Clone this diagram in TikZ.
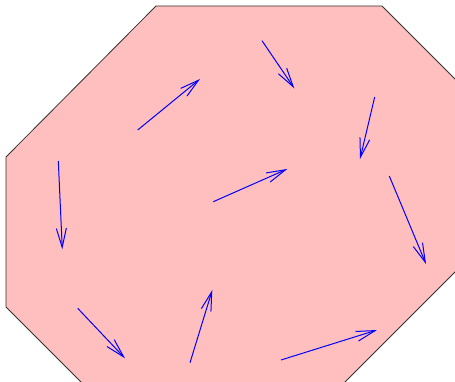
\documentclass[tikz,border=0pt]{standalone}
\usetikzlibrary{arrows.meta}
\definecolor{octfill}{RGB}{255,191,191}
\tikzset{
  vec/.style={draw=blue, line width=1pt, -{Straight Barb[length=19pt,width=10pt]}},
  octagon/.style={fill=octfill, draw=black!80, line width=0.8pt}
}
\begin{document}
\begin{tikzpicture}[x=1pt,y=-1pt]
\useasboundingbox (0,0) rectangle (455,382);
\clip (0,0) rectangle (455,382);
\draw[octagon] (6,157) -- (156,6) -- (382,6) -- (470,94) -- (470,257) -- (327,400) -- (99,400) -- (6,307) -- cycle;
\coordinate (a1) at (137.7,130); \coordinate (b1) at (200,79);
\coordinate (a2) at (262,40.7);  \coordinate (b2) at (294.3,88.3);
\coordinate (a3) at (374.7,97);  \coordinate (b3) at (360,159);
\coordinate (a4) at (389.3,176); \coordinate (b4) at (426,264);
\coordinate (a5) at (213.3,201.7); \coordinate (b5) at (287.3,169);
\coordinate (a6) at (58.3,161);  \coordinate (b6) at (62.3,249.3);
\coordinate (a7) at (77.7,308.3); \coordinate (b7) at (125,358.3);
\coordinate (a8) at (190,362.7); \coordinate (b8) at (212.3,290);
\coordinate (a9) at (281,360);   \coordinate (b9) at (377,330);
\foreach \i in {1,...,9} { \draw[vec] (a\i) -- (b\i); }
\end{tikzpicture}
\end{document}
